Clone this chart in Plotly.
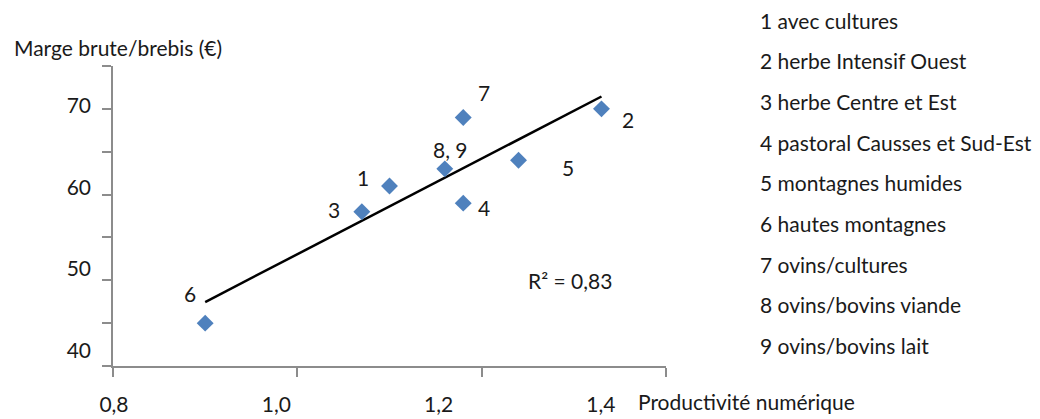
import numpy as np
import plotly.graph_objects as go

# ---- data ----
point_labels = ["1", "2", "3", "4", "5", "6", "7", "8, 9"]
productivite = [1.10, 1.33, 1.07, 1.18, 1.24, 0.90, 1.18, 1.16]
marge_brute = [61, 70, 58, 59, 64, 45, 69, 63]

legend_items = [
    "1 avec cultures",
    "2 herbe Intensif Ouest",
    "3 herbe Centre et Est",
    "4 pastoral Causses et Sud-Est",
    "5 montagnes humides",
    "6 hautes montagnes",
    "7 ovins/cultures",
    "8 ovins/bovins viande",
    "9 ovins/bovins lait",
]

x_tickvals = [0.8, 1.0, 1.2, 1.4]
x_ticktext = ["0,8", "1,0", "1,2", "1,4"]
y_tickvals = [40, 50, 60, 70]
y_ticktext = ["40", "50", "60", "70"]

x_title = "Productivité numérique"
y_title = "Marge brute/brebis (€)"

# ---- styling / layout ----
FONT = "Lato"
FS = 21
TXT = "#1a1a1a"
AX = "#8c8c8c"
MARKER = "#4F81BD"

OFF = 8  # page body margin in the browser (figure starts at 8,8)
W, H = 1040, 419
# plot area in screen pixels: x 113..666, y 66..366
L, T = 113 - OFF, 66 - OFF
R = W - (666 - OFF)
B = H - (366 - OFF)
PW, PH = W - L - R, H - T - B


def px(xs_):
    return (xs_ - OFF - L) / PW


def py(ys_):
    return (H - B - (ys_ - OFF)) / PH


# label offsets (pixels) for each point label
label_shift = {
    "1": (-27, 9), "2": (27, -11), "3": (-28, 2), "4": (21, -4),
    "5": (49, -7), "6": (-15, 30), "7": (21, 25), "8, 9": (6, 19),
}

# trend line from the data
a, b = np.polyfit(productivite, marge_brute, 1)
xs = np.array([min(productivite), max(productivite)])
ys = a * xs + b
r2 = np.corrcoef(productivite, marge_brute)[0, 1] ** 2
r2_text = "R² = " + f"{r2:.2f}".replace(".", ",")

fig = go.Figure()
fig.add_trace(go.Scatter(
    x=xs, y=ys, mode="lines",
    line=dict(color="black", width=2.5),
    hoverinfo="skip", showlegend=False,
))
fig.add_trace(go.Scatter(
    x=productivite, y=marge_brute, mode="markers",
    marker=dict(symbol="diamond", size=13, color=MARKER),
    showlegend=False,
))
# empty trace so the overlaid label axes are drawn
fig.add_trace(go.Scatter(
    x=[], y=[], xaxis="x2", yaxis="y2", mode="markers",
    hoverinfo="skip", showlegend=False,
))

annotations = []
for lab, xv, yv in zip(point_labels, productivite, marge_brute):
    dx, dy = label_shift[lab]
    annotations.append(dict(
        x=xv, y=yv, xref="x", yref="y", text=lab, showarrow=False,
        xshift=dx, yshift=dy, font=dict(family=FONT, size=FS, color=TXT),
    ))

annotations.append(dict(
    x=px(12), y=py(47), xref="paper", yref="paper", text=y_title,
    showarrow=False, xanchor="left", yanchor="middle",
    font=dict(family=FONT, size=FS, color=TXT),
))
annotations.append(dict(
    x=px(636), y=py(401), xref="paper", yref="paper", text=x_title,
    showarrow=False, xanchor="left", yanchor="middle",
    font=dict(family=FONT, size=FS, color=TXT),
))
annotations.append(dict(
    x=px(570), y=py(280), xref="paper", yref="paper", text=r2_text,
    showarrow=False, xanchor="center", yanchor="middle",
    font=dict(family=FONT, size=FS, color=TXT),
))
for i, item in enumerate(legend_items):
    annotations.append(dict(
        x=px(758), y=py(20 + 40.7 * i), xref="paper", yref="paper", text=item,
        showarrow=False, xanchor="left", yanchor="middle",
        font=dict(family=FONT, size=FS, color=TXT),
    ))

fig.update_layout(
    width=W, height=H,
    margin=dict(l=L, r=R, t=T, b=B, pad=0),
    paper_bgcolor="white", plot_bgcolor="white",
    font=dict(family=FONT, size=FS, color=TXT),
    showlegend=False,
    annotations=annotations,
    xaxis=dict(
        range=[0.8, 1.4], tickvals=x_tickvals, showticklabels=False,
        ticks="outside", ticklen=9, tickwidth=2, tickcolor=AX,
        showline=True, linecolor=AX, linewidth=2,
        showgrid=False, zeroline=False,
    ),
    yaxis=dict(
        range=[40, 75], tick0=40, dtick=5, showticklabels=False,
        ticks="outside", ticklen=9, tickwidth=2, tickcolor=AX,
        showline=True, linecolor=AX, linewidth=2,
        showgrid=False, zeroline=False,
    ),
    xaxis2=dict(
        overlaying="x", anchor="y", side="bottom",
        range=[0.7988, 1.4802], tickvals=x_tickvals, ticktext=x_ticktext,
        ticks="", showline=False, showgrid=False, zeroline=False,
        ticklabelstandoff=24,
        tickfont=dict(family=FONT, size=FS, color=TXT),
    ),
    yaxis2=dict(
        overlaying="y", anchor="x", side="left",
        range=[38.10, 74.91], tickvals=y_tickvals, ticktext=y_ticktext,
        ticks="", showline=False, showgrid=False, zeroline=False,
        ticklabelstandoff=21,
        tickfont=dict(family=FONT, size=FS, color=TXT),
    ),
)

fig.write_html("out.html")
